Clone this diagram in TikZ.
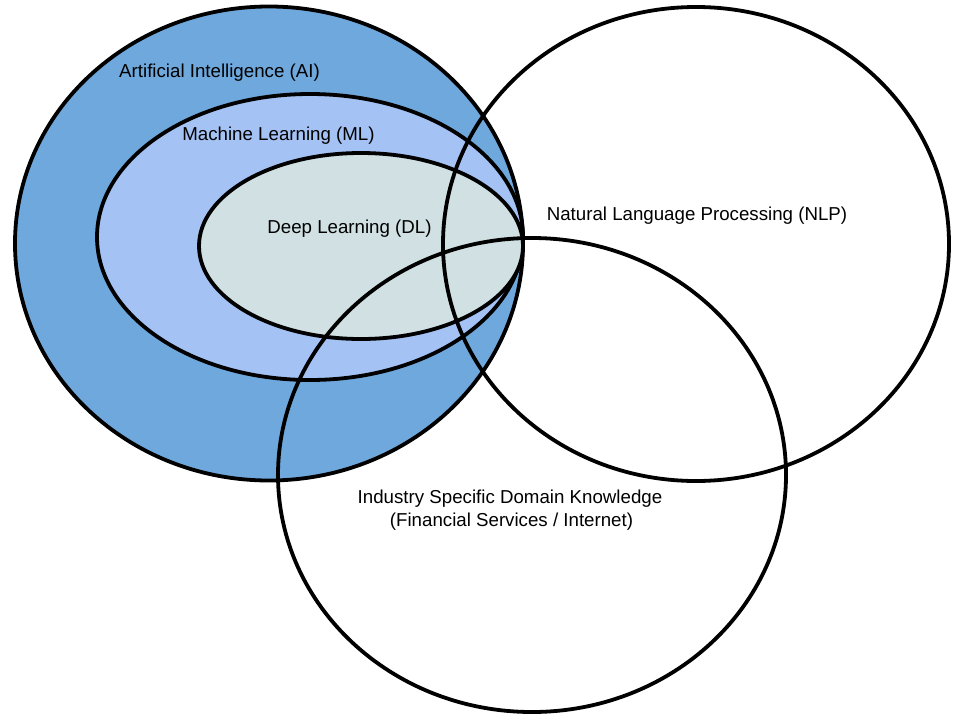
\documentclass[tikz,border=0pt]{standalone}
\usepackage{fontspec}
\setmainfont{Liberation Sans}
\usetikzlibrary{shapes.geometric}
\definecolor{aiblue}{HTML}{6FA8DC}
\definecolor{mlblue}{HTML}{A4C2F4}
\definecolor{dlgrey}{HTML}{D0E0E3}
\begin{document}
\begin{tikzpicture}[x=1pt,y=-1pt,
  set/.style={ellipse, draw=black, line width=3.8pt, inner sep=0pt, outer sep=0pt},
  lbl/.style={font=\fontsize{18.7}{23}\selectfont, text=black, inner sep=0pt, align=center}]
\fill[white] (0,0) rectangle (960,720);
\useasboundingbox (0,0) rectangle (960,720);
\node[set, fill=aiblue, minimum width=508pt, minimum height=474pt] (ai) at (269,243.5) {};
\node[set, fill=mlblue, minimum width=426pt, minimum height=286pt] (ml) at (310,237) {};
\node[set, fill=dlgrey, minimum width=324pt, minimum height=186pt] (dl) at (361,246) {};
\node[set, minimum width=506pt, minimum height=474pt] (nlp) at (696,244) {};
\node[set, minimum width=508pt, minimum height=474pt] (ind) at (532,475) {};
\node[lbl] (tai) at (219.5,73) {Artificial Intelligence (AI)};
\node[lbl] (tml) at (278.5,136) {Machine Learning (ML)};
\node[lbl] (tdl) at (349.5,229) {Deep Learning (DL)};
\node[lbl] (tnlp) at (697,216) {Natural Language Processing (NLP)};
\node[lbl] (tind1) at (510,499) {Industry Specific Domain Knowledge};
\node[lbl] (tind2) at (511.5,522) {(Financial Services / Internet)};
\end{tikzpicture}
\end{document}
